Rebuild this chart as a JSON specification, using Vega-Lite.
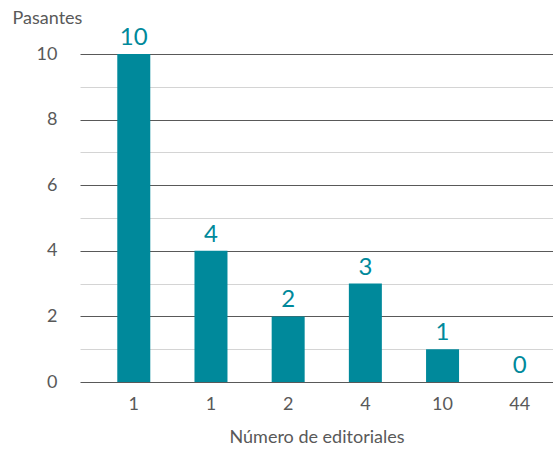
{
  "$schema": "https://vega.github.io/schema/vega-lite/v6.json",
  "autosize": {"type": "none"},
  "padding": {"left": 80, "top": 54, "right": 0, "bottom": 69},
  "width": 473,
  "height": 328,
  "background": "#ffffff",
  "config": {
    "view": {"stroke": null},
    "font": "Lato",
    "axis": {"labelFont": "Lato", "titleFont": "Lato", "labelColor": "#595959", "titleColor": "#595959", "titleFontWeight": "normal"}
  },
  "data": {
    "values": [
      {"editoriales": "1", "pasantes": 10},
      {"editoriales": "1 ", "pasantes": 4},
      {"editoriales": "2", "pasantes": 2},
      {"editoriales": "4", "pasantes": 3},
      {"editoriales": "10", "pasantes": 1},
      {"editoriales": "44", "pasantes": 0}
    ]
  },
  "encoding": {
    "x": {
      "field": "editoriales",
      "type": "ordinal",
      "sort": null,
      "scale": {"paddingInner": 0.5725, "paddingOuter": 0.35, "align": 0.69},
      "axis": {
        "title": "Número de editoriales",
        "labelExpr": "trim(datum.label)",
        "labelAngle": 0,
        "labelFontSize": 18,
        "titleFontSize": 18,
        "ticks": false,
        "domain": false,
        "grid": false,
        "labelPadding": 13,
        "titlePadding": 15
      }
    },
    "y": {
      "field": "pasantes",
      "type": "quantitative",
      "scale": {"domain": [0, 10], "nice": false},
      "axis": {
        "title": "Pasantes",
        "titleAngle": 0,
        "titleAlign": "left",
        "titleBaseline": "alphabetic",
        "titleX": -68,
        "titleY": -31,
        "titleFontSize": 18,
        "values": [0, 1, 2, 3, 4, 5, 6, 7, 8, 9, 10],
        "labelExpr": "datum.value % 2 == 0 ? datum.label : ''",
        "labelFontSize": 18,
        "labelPadding": 23,
        "ticks": false,
        "domain": false,
        "grid": true,
        "gridColor": {"condition": {"test": "datum.value % 2 == 0", "value": "#595959"}, "value": "#d4d4d4"},
        "gridWidth": 1
      }
    }
  },
  "layer": [
    {"mark": {"type": "bar", "color": "#00899b"}},
    {
      "mark": {"type": "text", "color": "#00899b", "fontSize": 24, "baseline": "alphabetic", "dy": -9, "font": "Lato"},
      "encoding": {"text": {"field": "pasantes", "type": "quantitative"}}
    }
  ]
}
